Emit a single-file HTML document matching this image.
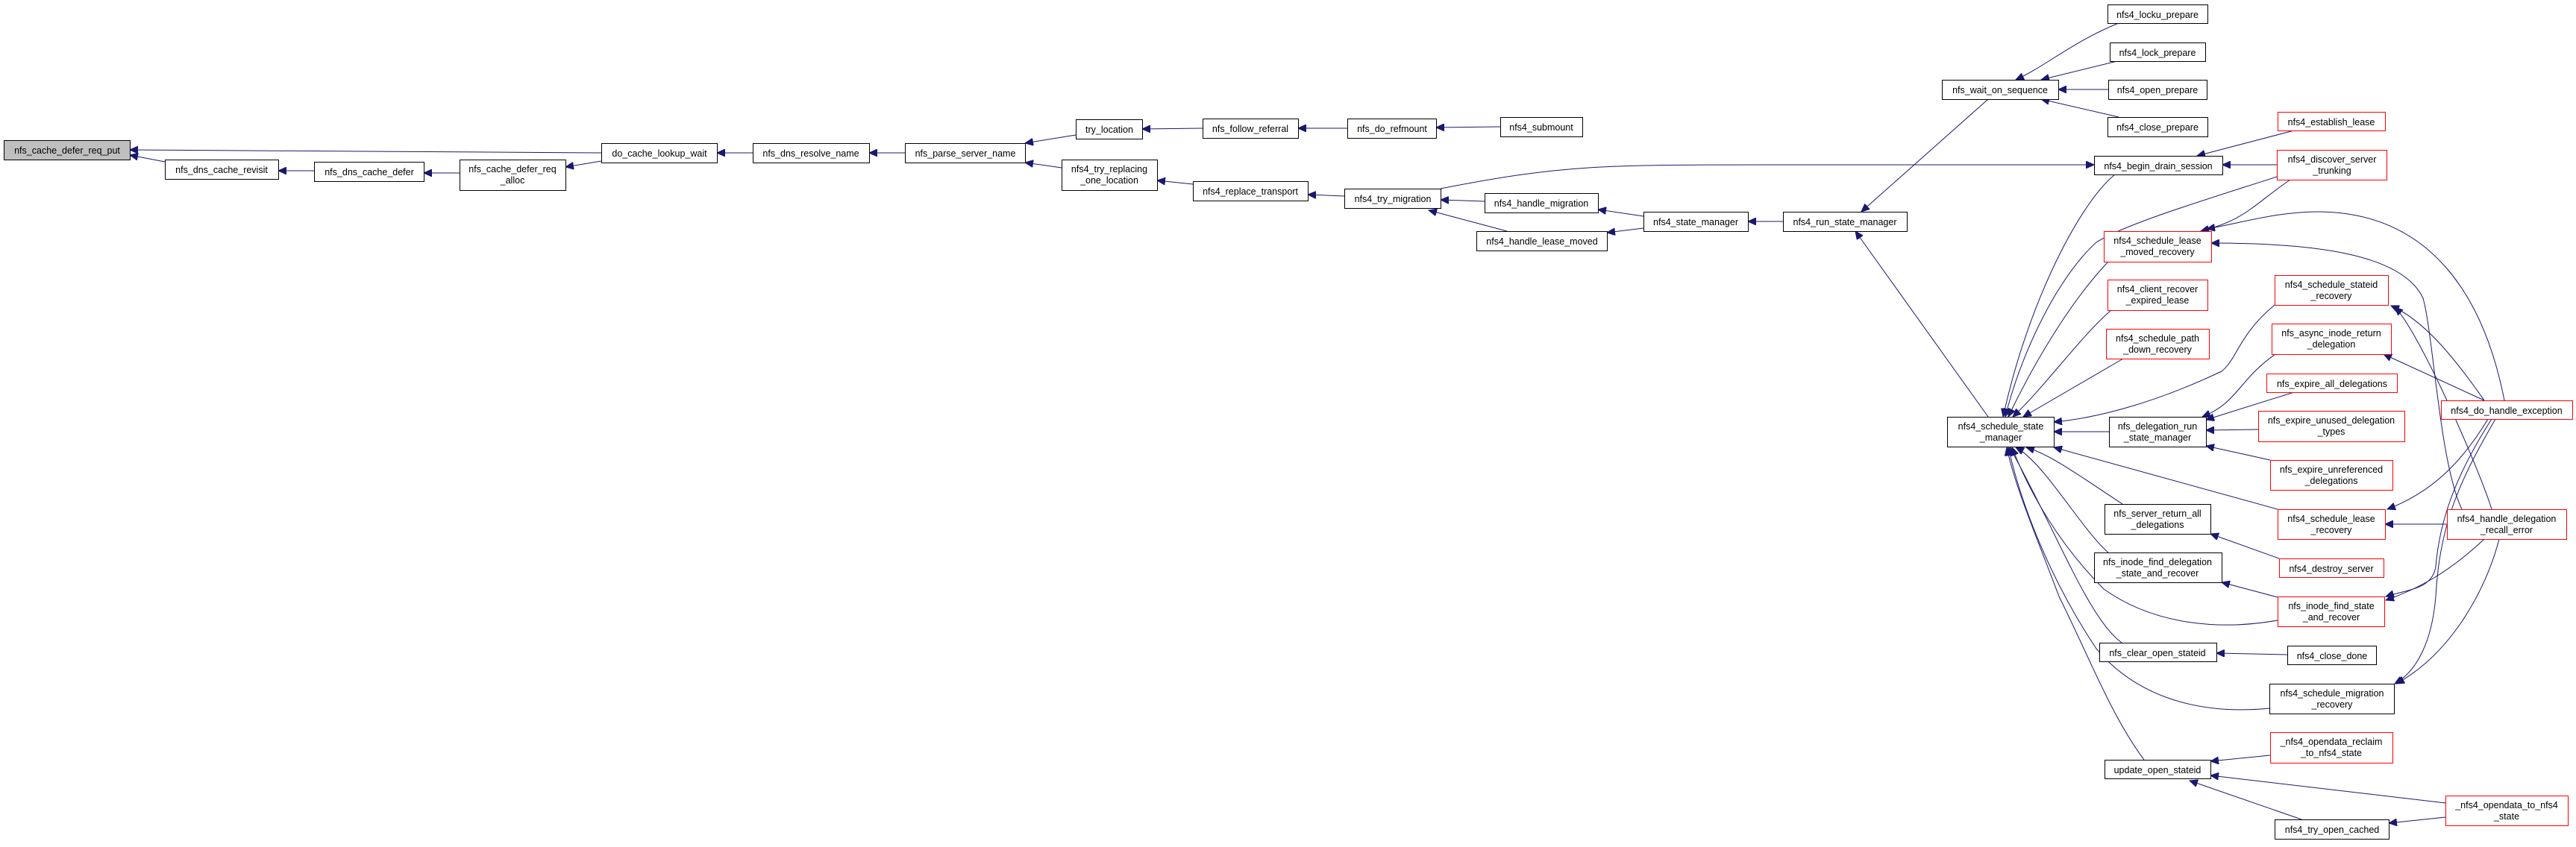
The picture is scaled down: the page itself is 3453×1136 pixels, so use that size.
<!DOCTYPE html>
<html><head><meta charset="utf-8"><style>
html,body{margin:0;padding:0;background:#fff;}
svg text{font-family:"Liberation Sans",sans-serif;font-size:12.5px;fill:#000;text-anchor:middle;}
.n{fill:#fff;stroke:#000;stroke-width:1}
.r{fill:#fff;stroke:#ff0000;stroke-width:1}
.g{fill:#bfbfbf;stroke:#000;stroke-width:1}
.e{fill:none;stroke:#191970;stroke-width:1}
</style></head><body>
<svg width="3453" height="1131" viewBox="0 0 3453 1131" xmlns="http://www.w3.org/2000/svg">
<defs><marker id="a" markerUnits="userSpaceOnUse" markerWidth="12" markerHeight="10" refX="11" refY="5" orient="auto"><path d="M0,0 L11,5 L0,10 z" fill="#191970" stroke="#191970"/></marker></defs>
<g marker-end="url(#a)">
<path class="e" d="M806,205 L174,201"/>
<path class="e" d="M221,217 L174,208"/>
<path class="e" d="M421,229 L373,229"/>
<path class="e" d="M616,232 L568,232"/>
<path class="e" d="M806,216 L758,224"/>
<path class="e" d="M1009,205 L961,205"/>
<path class="e" d="M1213,205 L1165,205"/>
<path class="e" d="M1442,181 L1374,192"/>
<path class="e" d="M1423,225 L1374,218"/>
<path class="e" d="M1612,172 L1531,173"/>
<path class="e" d="M1806,172 L1740,172"/>
<path class="e" d="M2011,170 L1925,171"/>
<path class="e" d="M1599,247 L1551,242"/>
<path class="e" d="M1802,263 L1753,261"/>
<path class="e" d="M1990,270 L1931,268"/>
<path class="e" d="M2020,310 L1915,282"/>
<path class="e" d="M2203,290 L2142,281"/>
<path class="e" d="M2203,306 L2154,312"/>
<path class="e" d="M2390,297 L2343,297"/>
<path class="e" d="M1931,253 C2100,220 2150,221 2400,221 L2807,221"/>
<path class="e" d="M2665,133 L2495,284"/>
<path class="e" d="M2665,559 L2487,310"/>
<path class="e" d="M2840,31 C2780,55 2740,90 2702,107"/>
<path class="e" d="M2838,82 L2736,107"/>
<path class="e" d="M2826,120 L2759,120"/>
<path class="e" d="M2840,157 L2736,133"/>
<path class="e" d="M3075,175 L2945,209"/>
<path class="e" d="M3052,221 L2979,221"/>
<path class="e" d="M2835,234 C2790,270 2720,400 2685,559"/>
<path class="e" d="M3052,237 C2950,270 2850,300 2810,325 C2760,370 2710,470 2688,559"/>
<path class="e" d="M3070,241 C3020,275 3010,295 2950,310"/>
<path class="e" d="M3357,537 C3330,400 3260,285 3108,284 C3050,284 3000,300 2958,307"/>
<path class="e" d="M3300,683 C3270,620 3262,450 3248,400 C3220,340 3100,326 2964,326"/>
<path class="e" d="M2826,351 C2770,410 2720,500 2692,559"/>
<path class="e" d="M2830,416 C2790,450 2740,520 2698,559"/>
<path class="e" d="M2846,481 L2712,559"/>
<path class="e" d="M3049,409 C3000,450 3000,480 2978,498 C2900,535 2820,560 2753,566"/>
<path class="e" d="M2827,579 L2753,579"/>
<path class="e" d="M3330,537 C3290,480 3250,430 3205,410"/>
<path class="e" d="M3340,683 C3320,620 3240,440 3210,412"/>
<path class="e" d="M3050,475 C3000,510 3000,540 2952,559"/>
<path class="e" d="M3330,537 L3195,475"/>
<path class="e" d="M3075,526 L2957,563"/>
<path class="e" d="M3027,576 L2957,577"/>
<path class="e" d="M3043,617 L2957,598"/>
<path class="e" d="M3053,683 L2753,600"/>
<path class="e" d="M3280,703 L3197,703"/>
<path class="e" d="M3335,562 C3300,620 3260,660 3200,683"/>
<path class="e" d="M2845,676 C2790,640 2750,610 2716,600"/>
<path class="e" d="M3055,749 L2963,716"/>
<path class="e" d="M2826,741 C2790,710 2740,620 2702,600"/>
<path class="e" d="M3053,801 L2978,781"/>
<path class="e" d="M3053,832 C2980,845 2890,840 2820,790 C2760,730 2720,660 2697,600"/>
<path class="e" d="M3340,562 C3290,640 3270,700 3265,760 C3260,790 3230,790 3198,800"/>
<path class="e" d="M3330,723 C3280,770 3240,790 3198,805"/>
<path class="e" d="M2844,862 C2800,830 2760,720 2694,600"/>
<path class="e" d="M3066,878 L2971,876"/>
<path class="e" d="M3042,950 C2940,960 2860,930 2810,870 C2750,780 2710,680 2692,600"/>
<path class="e" d="M3345,562 C3300,640 3270,700 3265,800 C3260,860 3240,900 3210,917"/>
<path class="e" d="M3350,723 C3330,800 3280,880 3212,917"/>
<path class="e" d="M2874,1019 C2830,960 2800,880 2760,800 C2730,720 2700,650 2690,600"/>
<path class="e" d="M3043,1013 L2963,1021"/>
<path class="e" d="M3278,1077 L2963,1040"/>
<path class="e" d="M3085,1099 L2935,1047"/>
<path class="e" d="M3278,1096 L3202,1104"/>
</g>
<g>
<rect class="g" x="5.5" y="188.5" width="169" height="26"/><text x="90" y="206">nfs_cache_defer_req_put</text>
<rect class="n" x="221.5" y="214.5" width="152" height="26"/><text x="297" y="232">nfs_dns_cache_revisit</text>
<rect class="n" x="421.5" y="217.5" width="147" height="26"/><text x="495" y="235">nfs_dns_cache_defer</text>
<rect class="n" x="616.5" y="214.5" width="142" height="41"/><text x="687" y="231">nfs_cache_defer_req</text><text x="687" y="246">_alloc</text>
<rect class="n" x="806.5" y="192.5" width="155" height="26"/><text x="884" y="210">do_cache_lookup_wait</text>
<rect class="n" x="1009.5" y="192.5" width="156" height="26"/><text x="1087" y="210">nfs_dns_resolve_name</text>
<rect class="n" x="1213.5" y="192.5" width="161" height="26"/><text x="1294" y="210">nfs_parse_server_name</text>
<rect class="n" x="1442.5" y="160.5" width="89" height="26"/><text x="1487" y="178">try_location</text>
<rect class="n" x="1612.5" y="159.5" width="128" height="26"/><text x="1676" y="177">nfs_follow_referral</text>
<rect class="n" x="1806.5" y="159.5" width="119" height="26"/><text x="1866" y="177">nfs_do_refmount</text>
<rect class="n" x="2011.5" y="157.5" width="110" height="26"/><text x="2066" y="175">nfs4_submount</text>
<rect class="n" x="1423.5" y="214.5" width="128" height="41"/><text x="1487" y="231">nfs4_try_replacing</text><text x="1487" y="246">_one_location</text>
<rect class="n" x="1599.5" y="243.5" width="154" height="26"/><text x="1676" y="261">nfs4_replace_transport</text>
<rect class="n" x="1802.5" y="253.5" width="129" height="26"/><text x="1867" y="271">nfs4_try_migration</text>
<rect class="n" x="1990.5" y="259.5" width="152" height="26"/><text x="2066" y="277">nfs4_handle_migration</text>
<rect class="n" x="1979.5" y="310.5" width="175" height="26"/><text x="2067" y="328">nfs4_handle_lease_moved</text>
<rect class="n" x="2203.5" y="284.5" width="140" height="26"/><text x="2273" y="302">nfs4_state_manager</text>
<rect class="n" x="2390.5" y="284.5" width="166" height="26"/><text x="2473" y="302">nfs4_run_state_manager</text>
<rect class="n" x="2603.5" y="107.5" width="156" height="26"/><text x="2681" y="125">nfs_wait_on_sequence</text>
<rect class="n" x="2825.5" y="6.5" width="134" height="25"/><text x="2892" y="24">nfs4_locku_prepare</text>
<rect class="n" x="2828.5" y="57.5" width="128" height="25"/><text x="2892" y="75">nfs4_lock_prepare</text>
<rect class="n" x="2826.5" y="107.5" width="132" height="26"/><text x="2892" y="125">nfs4_open_prepare</text>
<rect class="n" x="2825.5" y="157.5" width="134" height="26"/><text x="2892" y="175">nfs4_close_prepare</text>
<rect class="r" x="3053.5" y="150.5" width="144" height="25"/><text x="3125" y="168">nfs4_establish_lease</text>
<rect class="n" x="2807.5" y="209.5" width="172" height="25"/><text x="2893" y="227">nfs4_begin_drain_session</text>
<rect class="r" x="3052.5" y="201.5" width="147" height="40"/><text x="3126" y="218">nfs4_discover_server</text><text x="3126" y="233">_trunking</text>
<rect class="r" x="2820.5" y="310.5" width="144" height="41"/><text x="2892" y="327">nfs4_schedule_lease</text><text x="2892" y="342">_moved_recovery</text>
<rect class="r" x="2825.5" y="375.5" width="134" height="41"/><text x="2892" y="392">nfs4_client_recover</text><text x="2892" y="407">_expired_lease</text>
<rect class="r" x="2823.5" y="441.5" width="138" height="40"/><text x="2892" y="458">nfs4_schedule_path</text><text x="2892" y="473">_down_recovery</text>
<rect class="r" x="3049.5" y="369.5" width="152" height="40"/><text x="3125" y="386">nfs4_schedule_stateid</text><text x="3125" y="401">_recovery</text>
<rect class="r" x="3045.5" y="434.5" width="160" height="41"/><text x="3125" y="451">nfs_async_inode_return</text><text x="3125" y="466">_delegation</text>
<rect class="r" x="3038.5" y="501.5" width="175" height="25"/><text x="3126" y="519">nfs_expire_all_delegations</text>
<rect class="r" x="3027.5" y="551.5" width="196" height="41"/><text x="3125" y="568">nfs_expire_unused_delegation</text><text x="3125" y="583">_types</text>
<rect class="r" x="3272.5" y="537.5" width="176" height="25"/><text x="3360" y="555">nfs4_do_handle_exception</text>
<rect class="n" x="2610.5" y="559.5" width="143" height="40"/><text x="2682" y="576">nfs4_schedule_state</text><text x="2682" y="591">_manager</text>
<rect class="n" x="2827.5" y="559.5" width="130" height="40"/><text x="2892" y="576">nfs_delegation_run</text><text x="2892" y="591">_state_manager</text>
<rect class="r" x="3043.5" y="617.5" width="164" height="40"/><text x="3125" y="634">nfs_expire_unreferenced</text><text x="3125" y="649">_delegations</text>
<rect class="r" x="3053.5" y="683.5" width="144" height="40"/><text x="3125" y="700">nfs4_schedule_lease</text><text x="3125" y="715">_recovery</text>
<rect class="r" x="3280.5" y="683.5" width="160" height="40"/><text x="3360" y="700">nfs4_handle_delegation</text><text x="3360" y="715">_recall_error</text>
<rect class="n" x="2821.5" y="676.5" width="142" height="40"/><text x="2892" y="693">nfs_server_return_all</text><text x="2892" y="708">_delegations</text>
<rect class="r" x="3055.5" y="749.5" width="140" height="25"/><text x="3125" y="767">nfs4_destroy_server</text>
<rect class="n" x="2807.5" y="741.5" width="171" height="40"/><text x="2892" y="758">nfs_inode_find_delegation</text><text x="2892" y="773">_state_and_recover</text>
<rect class="r" x="3053.5" y="800.5" width="143" height="40"/><text x="3125" y="817">nfs_inode_find_state</text><text x="3125" y="832">_and_recover</text>
<rect class="n" x="2814.5" y="862.5" width="157" height="25"/><text x="2892" y="880">nfs_clear_open_stateid</text>
<rect class="n" x="3066.5" y="866.5" width="119" height="25"/><text x="3126" y="884">nfs4_close_done</text>
<rect class="n" x="3042.5" y="917.5" width="167" height="40"/><text x="3126" y="934">nfs4_schedule_migration</text><text x="3126" y="949">_recovery</text>
<rect class="r" x="3043.5" y="982.5" width="164" height="41"/><text x="3125" y="999">_nfs4_opendata_reclaim</text><text x="3125" y="1014">_to_nfs4_state</text>
<rect class="n" x="2821.5" y="1019.5" width="142" height="25"/><text x="2892" y="1037">update_open_stateid</text>
<rect class="r" x="3278.5" y="1067.5" width="164" height="40"/><text x="3360" y="1084">_nfs4_opendata_to_nfs4</text><text x="3360" y="1099">_state</text>
<rect class="n" x="3049.5" y="1099.5" width="153" height="26"/><text x="3126" y="1117">nfs4_try_open_cached</text>
</g>
</svg>
</body></html>
